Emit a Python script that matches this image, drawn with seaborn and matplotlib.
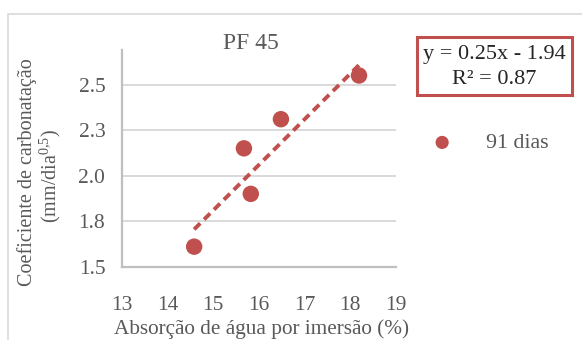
import numpy as np
import pandas as pd
import matplotlib
matplotlib.use("Agg")
import matplotlib.pyplot as plt
import seaborn as sns
from matplotlib.patches import Rectangle

# Data: water absorption by immersion vs. carbonation coefficient (91 days)
absorcao = [14.58, 15.67, 15.82, 16.48, 18.19]
coeficiente = [1.61, 2.15, 1.90, 2.31, 2.55]
serie = "91 dias"

# Linear trend stated in the equation box
inclinacao = 0.25
intercepto = -1.94
r2 = 0.87

x_ticks = [13, 14, 15, 16, 17, 18, 19]
y_ticks = [1.5, 1.75, 2.0, 2.25, 2.5]
y_tick_labels = ["1.5", "1.8", "2.0", "2.3", "2.5"]

sns.set_theme(style="white")
plt.rcParams["font.family"] = ["Liberation Serif", "DejaVu Serif"]
plt.rcParams["mathtext.fontset"] = "custom"
plt.rcParams["mathtext.rm"] = "Liberation Serif"
plt.rcParams["mathtext.default"] = "regular"

red = "#c0504d"
gray_text = "#595959"

W, H = 582, 340
fig = plt.figure(figsize=(W / 100, H / 100), dpi=100)

# Chart-area border (continues past the right and bottom edges)
fig.patches.append(Rectangle((8 / W, -0.1), 1.2, (H - 13.5) / H + 0.1,
                             transform=fig.transFigure, fill=False,
                             edgecolor="#d9d9d9", linewidth=1.2))

ax = fig.add_axes([122 / W, (H - 266.7) / H, 274 / W, 216.7 / H])

df = pd.DataFrame({"x": absorcao, "y": coeficiente})

# Trend line across the data range
xl = np.array([min(absorcao), max(absorcao)])
trend = pd.DataFrame({"x": xl, "y": inclinacao * xl + intercepto})
sns.lineplot(data=trend, x="x", y="y", ax=ax, color=red, linewidth=2.8,
             linestyle=(0, (2.2, 1.4)), legend=False, zorder=3)

sns.scatterplot(data=df, x="x", y="y", ax=ax, color=red, s=140,
                edgecolor="none", label=serie, zorder=4)

ax.set_xlim(13, 19)
ax.set_ylim(1.5, 2.69)
ax.set_xticks(x_ticks)
ax.set_xticklabels([str(t) for t in x_ticks])
ax.set_yticks(y_ticks)
ax.set_yticklabels(y_tick_labels)
ax.tick_params(axis="both", length=0, labelsize=15.5, colors=gray_text)
ax.tick_params(axis="x", pad=21)
ax.tick_params(axis="y", pad=12)
ax.grid(axis="y", color="#d9d9d9", linewidth=1.4)
ax.grid(axis="x", visible=False)
for side in ["top", "right"]:
    ax.spines[side].set_visible(False)
for side in ["left", "bottom"]:
    ax.spines[side].set_color("#bfbfbf")
    ax.spines[side].set_linewidth(1.6)
ax.set_xlabel("")
ax.set_ylabel("")

fig.text(251 / W, 1 - 43.5 / H, "PF 45", ha="center", va="center",
         fontsize=17, color=gray_text)
fig.text(261 / W, 1 - 329 / H, "Absorção de água por imersão (%)",
         ha="center", va="center", fontsize=15.3, color=gray_text)
fig.text(27 / W, 1 - 172 / H, "Coeficiente de carbonatação",
         ha="center", va="center", rotation=90, fontsize=14.5, color=gray_text)
fig.text(50 / W, 1 - 176 / H, r"(mm/dia$^{0{,}5}$)",
         ha="center", va="center", rotation=90, fontsize=14.5, color=gray_text)

# Equation box
fig.patches.append(Rectangle((417 / W, 1 - 95 / H), 155 / W, 58 / H,
                             transform=fig.transFigure, facecolor="white",
                             edgecolor=red, linewidth=2.2))
fig.text(494.5 / W, 1 - 55 / H,
         f"y = {inclinacao:.2f}x - {abs(intercepto):.2f}",
         ha="center", va="center", fontsize=16, color="#262626")
fig.text(494.5 / W, 1 - 79 / H, f"R² = {r2:.2f}",
         ha="center", va="center", fontsize=16, color="#262626")

leg = ax.legend(loc="center left", bbox_to_anchor=(418 / W, 1 - 143 / H),
                bbox_transform=fig.transFigure, frameon=False,
                handletextpad=1.4, markerscale=0.8, fontsize=15.8,
                borderpad=0, handlelength=1.2)
for t in leg.get_texts():
    t.set_color(gray_text)

fig.savefig("out.png", dpi=100)
